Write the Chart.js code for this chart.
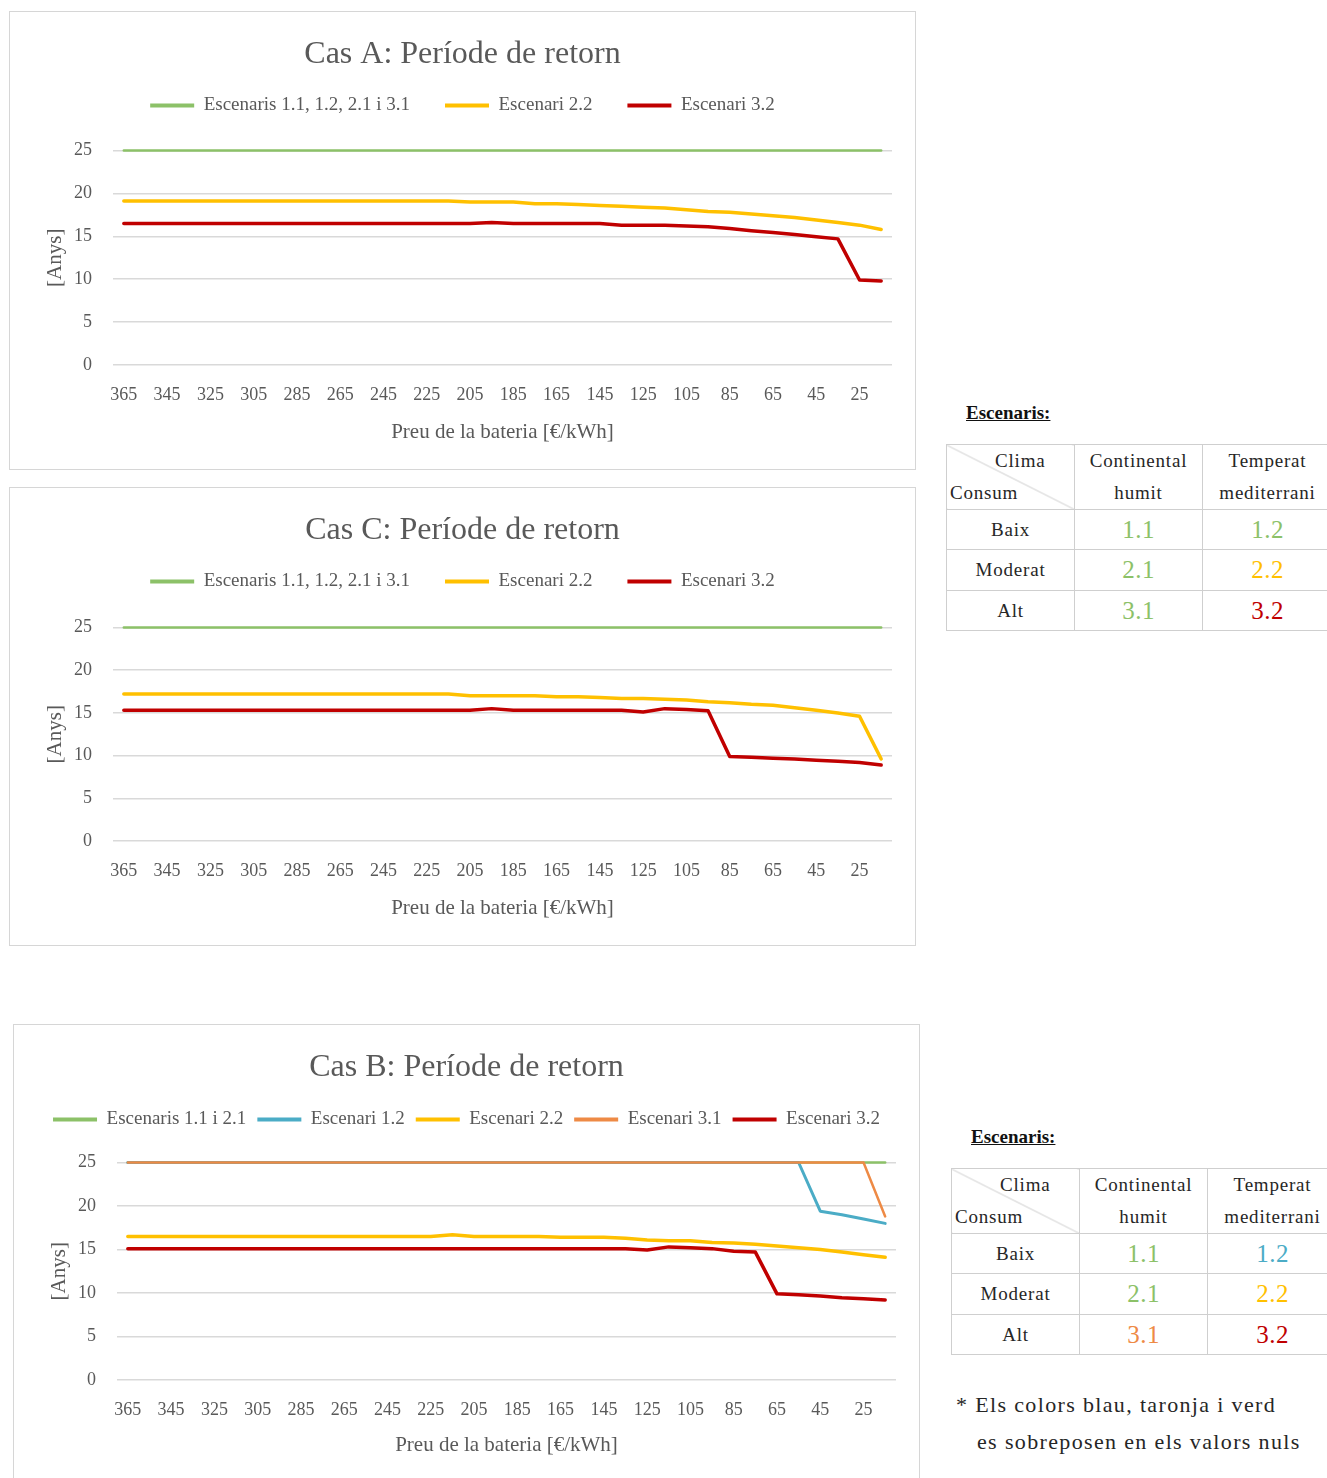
<!DOCTYPE html>
<html lang="ca">
<head>
<meta charset="utf-8">
<title>Període de retorn</title>
<script src="https://cdn.jsdelivr.net/npm/chart.js@4/dist/chart.umd.min.js"></script>
<style>
  html, body { margin: 0; padding: 0; background: #fff; }
  body { width: 1327px; height: 1478px; overflow: hidden; position: relative;
         font-family: 'Liberation Serif', serif; color: #262626; }
  .panel { position: absolute; width: 907px; height: 459px; box-sizing: border-box;
           border: 1px solid #D6D6D6; background: #fff; }
  .panel canvas { display: block; }
  .caption { position: absolute; font-weight: bold; font-size: 19px; text-decoration: underline;
             line-height: 20px; color: #111; }
  table.esc { position: absolute; border-collapse: collapse; table-layout: fixed; width: 386px; }
  table.esc td { border: 1px solid #CFCFCF; padding: 0; text-align: center; vertical-align: middle;
                 font-size: 19px; letter-spacing: 0.8px; color: #262626; }
  table.esc td.hd { line-height: 32px; }
  table.esc td.corner { position: relative;
     background: linear-gradient(to top right, transparent calc(50% - 0.8px), #C8C8C8 50%, transparent calc(50% + 0.8px)); }
  table.esc td.corner span { position: absolute; line-height: 20px; }
  table.esc td.v { font-size: 25px; letter-spacing: 0.5px; }
  .note { position: absolute; font-size: 22px; letter-spacing: 1.35px; line-height: 26px; color: #262626; white-space: nowrap; }
</style>
</head>
<body>

<div class="panel" style="left:9px; top:11px;"><canvas id="casA" width="905" height="457"></canvas></div>
<div class="panel" style="left:9px; top:487px;"><canvas id="casC" width="905" height="457"></canvas></div>
<div class="panel" style="left:13px; top:1024px;"><canvas id="casB" width="905" height="457"></canvas></div>

<div class="caption" style="left:966px; top:403px;">Escenaris:</div>
<table class="esc" style="left:946px; top:444px;">
  <colgroup><col style="width:128px"><col style="width:128px"><col style="width:130px"></colgroup>
  <tr style="height:64px">
    <td class="corner"><span style="left:48px; top:6px;">Clima</span><span style="left:3px; top:38px;">Consum</span></td>
    <td class="hd">Continental<br>humit</td>
    <td class="hd">Temperat<br>mediterrani</td>
  </tr>
  <tr style="height:40px"><td>Baix</td><td class="v" style="color:#8CC168">1.1</td><td class="v" style="color:#8CC168">1.2</td></tr>
  <tr style="height:41px"><td>Moderat</td><td class="v" style="color:#8CC168">2.1</td><td class="v" style="color:#FFC000">2.2</td></tr>
  <tr style="height:40px"><td>Alt</td><td class="v" style="color:#8CC168">3.1</td><td class="v" style="color:#C00000">3.2</td></tr>
</table>

<div class="caption" style="left:971px; top:1127px;">Escenaris:</div>
<table class="esc" style="left:951px; top:1168px;">
  <colgroup><col style="width:128px"><col style="width:128px"><col style="width:130px"></colgroup>
  <tr style="height:64px">
    <td class="corner"><span style="left:48px; top:6px;">Clima</span><span style="left:3px; top:38px;">Consum</span></td>
    <td class="hd">Continental<br>humit</td>
    <td class="hd">Temperat<br>mediterrani</td>
  </tr>
  <tr style="height:40px"><td>Baix</td><td class="v" style="color:#8CC168">1.1</td><td class="v" style="color:#4BACC6">1.2</td></tr>
  <tr style="height:41px"><td>Moderat</td><td class="v" style="color:#8CC168">2.1</td><td class="v" style="color:#FFC000">2.2</td></tr>
  <tr style="height:40px"><td>Alt</td><td class="v" style="color:#EE8A45">3.1</td><td class="v" style="color:#C00000">3.2</td></tr>
</table>

<div class="note" style="left:956px; top:1392px;">* Els colors blau, taronja i verd</div>
<div class="note" style="left:977px; top:1429px;">es sobreposen en els valors nuls</div>

<script>
// Battery price categories [€/kWh], from 365 down to 15
const prices = [365, 355, 345, 335, 325, 315, 305, 295, 285, 275, 265, 255, 245, 235, 225, 215, 205, 195,
                185, 175, 165, 155, 145, 135, 125, 115, 105, 95, 85, 75, 65, 55, 45, 35, 25, 15];

// Payback period [years] per scenario
// Cas A
const casA_esc11_12_21_31 = [25, 25, 25, 25, 25, 25, 25, 25, 25, 25, 25, 25, 25, 25, 25, 25, 25, 25,
                             25, 25, 25, 25, 25, 25, 25, 25, 25, 25, 25, 25, 25, 25, 25, 25, 25, 25];
const casA_esc22 = [19.1, 19.1, 19.1, 19.1, 19.1, 19.1, 19.1, 19.1, 19.1, 19.1, 19.1, 19.1, 19.1, 19.1, 19.1, 19.1,
                    19.0, 19.0, 19.0, 18.8, 18.8, 18.7, 18.6, 18.5, 18.4, 18.3, 18.1, 17.9, 17.8, 17.6, 17.4, 17.2,
                    16.9, 16.6, 16.3, 15.8];
const casA_esc32 = [16.5, 16.5, 16.5, 16.5, 16.5, 16.5, 16.5, 16.5, 16.5, 16.5, 16.5, 16.5, 16.5, 16.5, 16.5, 16.5,
                    16.5, 16.6, 16.5, 16.5, 16.5, 16.5, 16.5, 16.3, 16.3, 16.3, 16.2, 16.1, 15.9, 15.65, 15.45, 15.2,
                    14.95, 14.7, 9.9, 9.8];

// Cas C
const casC_esc11_12_21_31 = [25, 25, 25, 25, 25, 25, 25, 25, 25, 25, 25, 25, 25, 25, 25, 25, 25, 25,
                             25, 25, 25, 25, 25, 25, 25, 25, 25, 25, 25, 25, 25, 25, 25, 25, 25, 25];
const casC_esc22 = [17.2, 17.2, 17.2, 17.2, 17.2, 17.2, 17.2, 17.2, 17.2, 17.2, 17.2, 17.2, 17.2, 17.2, 17.2, 17.2,
                    17.0, 17.0, 17.0, 17.0, 16.9, 16.9, 16.8, 16.7, 16.7, 16.6, 16.5, 16.3, 16.2, 16.0, 15.9, 15.6,
                    15.3, 15.0, 14.6, 9.6];
const casC_esc32 = [15.3, 15.3, 15.3, 15.3, 15.3, 15.3, 15.3, 15.3, 15.3, 15.3, 15.3, 15.3, 15.3, 15.3, 15.3, 15.3,
                    15.3, 15.5, 15.3, 15.3, 15.3, 15.3, 15.3, 15.3, 15.1, 15.5, 15.4, 15.25, 9.9, 9.8, 9.7, 9.6,
                    9.45, 9.35, 9.2, 8.9];

// Cas B
const casB_esc11_21 = [25, 25, 25, 25, 25, 25, 25, 25, 25, 25, 25, 25, 25, 25, 25, 25, 25, 25,
                       25, 25, 25, 25, 25, 25, 25, 25, 25, 25, 25, 25, 25, 25, 25, 25, 25, 25];
const casB_esc12 = [25, 25, 25, 25, 25, 25, 25, 25, 25, 25, 25, 25, 25, 25, 25, 25, 25, 25,
                    25, 25, 25, 25, 25, 25, 25, 25, 25, 25, 25, 25, 25, 25, 19.4, 19.0, 18.5, 18.0];
const casB_esc22 = [16.5, 16.5, 16.5, 16.5, 16.5, 16.5, 16.5, 16.5, 16.5, 16.5, 16.5, 16.5, 16.5, 16.5, 16.5, 16.7,
                    16.5, 16.5, 16.5, 16.5, 16.4, 16.4, 16.4, 16.3, 16.1, 16.0, 16.0, 15.8, 15.75, 15.6, 15.4, 15.2,
                    15.0, 14.7, 14.4, 14.1];
const casB_esc31 = [25, 25, 25, 25, 25, 25, 25, 25, 25, 25, 25, 25, 25, 25, 25, 25, 25, 25,
                    25, 25, 25, 25, 25, 25, 25, 25, 25, 25, 25, 25, 25, 25, 25, 25, 25, 18.8];
const casB_esc32 = [15.1, 15.1, 15.1, 15.1, 15.1, 15.1, 15.1, 15.1, 15.1, 15.1, 15.1, 15.1, 15.1, 15.1, 15.1, 15.1,
                    15.1, 15.1, 15.1, 15.1, 15.1, 15.1, 15.1, 15.1, 14.95, 15.3, 15.2, 15.1, 14.8, 14.7, 9.9, 9.8,
                    9.65, 9.45, 9.35, 9.2];

// Series colours
const GREEN = '#8CC168', BLUE = '#4BACC6', YELLOW = '#FFC000', ORANGE = '#EE8A45', RED = '#C00000';
const TEXT = '#595959', GRID = '#D9D9D9';

Chart.defaults.font.family = "'Liberation Serif', 'Times New Roman', serif";
Chart.defaults.color = TEXT;

function series(label, data, color, width) {
  return { label, data, borderColor: color, backgroundColor: color, borderWidth: width,
           pointRadius: 0, pointHoverRadius: 0, tension: 0, fill: false, clip: false,
           borderCapStyle: 'round', borderJoinStyle: 'round' };
}

function paybackChart(id, title, datasets, lay) {
  // later series are painted over earlier ones
  datasets.forEach((d, i) => { d.order = -i; });
  return new Chart(document.getElementById(id), {
    type: 'line',
    data: { labels: prices, datasets },
    options: {
      responsive: false,
      animation: false,
      events: [],
      layout: { padding: { left: 23, right: 23, top: 0, bottom: 0 } },
      plugins: {
        tooltip: { enabled: false },
        title: {
          display: true, text: title, color: TEXT,
          font: { size: 32, weight: 'normal', lineHeight: 1 },
          padding: { top: 27, bottom: lay.titleBottom }
        },
        legend: {
          display: true, position: 'top',
          labels: {
            color: TEXT, font: { size: 19 }, boxWidth: 44, boxHeight: 4, padding: lay.legendPad,
            sort: (a, b) => a.datasetIndex - b.datasetIndex,
            generateLabels(chart) {
              const items = Chart.defaults.plugins.legend.labels.generateLabels(chart);
              items.forEach(it => { it.fillStyle = it.strokeStyle; it.lineWidth = 0; });
              return items;
            }
          }
        },
        // empty band between the legend and the plot area
        subtitle: {
          display: true, text: '', weight: 500,
          font: { size: 1, lineHeight: 1 },
          padding: { top: lay.gap - 1, bottom: 0 }
        }
      },
      scales: {
        x: {
          type: 'category',
          offset: true,
          grid: { display: false, drawTicks: false },
          border: { display: false },
          ticks: {
            autoSkip: false, maxRotation: 0, minRotation: 0, padding: 19,
            color: TEXT, font: { size: 18 },
            callback(value, index) { return index % 2 === 0 ? this.getLabelForValue(value) : ''; }
          },
          title: { display: true, text: 'Preu de la bateria [€/kWh]', color: TEXT,
                   font: { size: 21 }, padding: { top: 0, bottom: 24 } },
          afterFit(scale) { scale.height = lay.xHeight; }
        },
        y: {
          min: 0, max: 25,
          grid: { color: GRID, lineWidth: 1.5, drawTicks: false },
          border: { display: false },
          ticks: { stepSize: 5, padding: 21, color: TEXT, font: { size: 18 } },
          title: { display: true, text: '[Anys]', color: TEXT,
                   font: { size: 21 }, padding: { top: 10, bottom: 0 } },
          afterFit(scale) { scale.width = 80; }
        }
      }
    }
  });
}

paybackChart('casA', 'Cas A: Període de retorn', [
  series('Escenaris 1.1, 1.2, 2.1 i 3.1', casA_esc11_12_21_31, GREEN, 2.5),
  series('Escenari 2.2', casA_esc22, YELLOW, 3.5),
  series('Escenari 3.2', casA_esc32, RED, 3.5)
], { titleBottom: -10, legendPad: 35, gap: 25.5, xHeight: 104 });

paybackChart('casC', 'Cas C: Període de retorn', [
  series('Escenaris 1.1, 1.2, 2.1 i 3.1', casC_esc11_12_21_31, GREEN, 2.5),
  series('Escenari 2.2', casC_esc22, YELLOW, 3.5),
  series('Escenari 3.2', casC_esc32, RED, 3.5)
], { titleBottom: -10, legendPad: 35, gap: 26.5, xHeight: 104 });

paybackChart('casB', 'Cas B: Període de retorn', [
  series('Escenaris 1.1 i 2.1', casB_esc11_21, GREEN, 2.5),
  series('Escenari 1.2', casB_esc12, BLUE, 3),
  series('Escenari 2.2', casB_esc22, YELLOW, 3.5),
  series('Escenari 3.1', casB_esc31, ORANGE, 2.5),
  series('Escenari 3.2', casB_esc32, RED, 3.5)
], { titleBottom: 15, legendPad: 11, gap: 23.5, xHeight: 102 });
</script>
</body>
</html>
